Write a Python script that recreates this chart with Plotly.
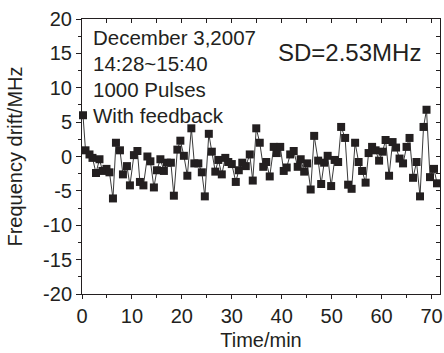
import plotly.graph_objects as go

time_min = [0.2, 0.7, 1.5, 2.1, 2.8, 3.5, 4.1, 4.9, 5.5, 6.2, 6.8, 7.6, 8.2, 9.0, 9.6, 10.4,
            11.1, 11.6, 12.3, 13.1, 13.7, 14.4, 15.0, 15.7, 16.4, 17.0, 17.8, 18.4, 19.1, 19.7,
            20.4, 21.1, 21.9, 22.5, 23.3, 24.0, 24.6, 25.4, 26.0, 26.7, 27.3, 28.0, 28.7, 29.3,
            30.0, 30.8, 31.4, 32.1, 32.8, 33.6, 34.2, 34.9, 35.6, 36.3, 36.9, 37.6, 38.4, 39.0,
            39.7, 40.4, 41.0, 41.7, 42.4, 43.2, 43.8, 44.5, 45.1, 45.8, 46.5, 47.3, 47.9, 48.5,
            49.2, 49.9, 50.6, 51.3, 51.9, 52.7, 53.3, 54.0, 54.7, 55.4, 56.1, 56.8, 57.4, 58.1,
            58.8, 59.5, 60.2, 60.8, 61.5, 62.2, 62.9, 63.6, 64.3, 65.0, 65.6, 66.3, 67.0, 67.7,
            68.4, 69.0, 69.7, 70.5, 71.1]
drift_mhz = [6.0, 0.9, 0.3, -0.2, -2.4, -0.4, -2.1, -1.8, -2.3, -6.1, 2.0, 0.9, -2.6, -1.4, -4.2, 0.2,
             0.8, -3.7, -4.2, 0.0, -0.7, -4.5, -2.0, -0.4, -2.1, -0.9, -0.9, -5.7, 1.0, 2.3,
             0.1, -2.8, 4.1, -1.0, -1.0, -2.3, -5.8, 3.3, 0.7, -2.2, -0.5, -2.6, -0.2, -0.8,
             -1.1, -3.7, -2.0, -0.9, -1.4, 0.3, -3.5, 4.1, 2.0, -1.5, -0.8, -2.9, 1.4, 0.5,
             1.4, -2.1, -1.6, 0.3, 0.8, -1.5, -0.4, -2.2, -1.0, -4.8, 3.0, -0.6, -4.0, -0.9,
             0.1, -4.3, -0.5, -0.8, 4.3, 2.7, -4.1, -4.7, 2.0, -0.8, -2.1, -3.8, 0.5, 1.4,
             0.9, -0.6, 0.7, 2.4, -2.8, 2.1, 1.3, -0.3, -1.0, 1.4, 2.7, -3.1, -0.8, -5.8,
             4.3, 6.8, -3.0, -1.8, -3.9]
x_tickvals = [0, 10, 20, 30, 40, 50, 60, 70]
x_ticktext = ["0", "10", "20", "30", "40", "50", "60", "70"]
y_tickvals = [-20, -15, -10, -5, 0, 5, 10, 15, 20]
y_ticktext = ["-20", "-15", "-10", "-5", "0", "5", "10", "15", "20"]
info_lines = ["December 3,2007", "14:28~15:40", "1000 Pulses", "With feedback"]
sd_label = "SD=2.53MHz"
x_title = "Time/min"
y_title = "Frequency drift/MHz"

FONT = "Liberation Sans, Arial, sans-serif"
INK = "#231f20"

fig = go.Figure()
fig.add_trace(go.Scatter(
    x=time_min, y=drift_mhz, mode="lines+markers",
    line=dict(color="#3a3a3a", width=1),
    marker=dict(symbol="square", size=8, color=INK),
    showlegend=False, cliponaxis=False,
))
fig.add_trace(go.Scatter(x=[], y=[], xaxis="x2", yaxis="y2", showlegend=False))

axis_common = dict(showgrid=False, zeroline=False, linecolor=INK, linewidth=1,
                   tickcolor=INK, tickfont=dict(family=FONT, size=20, color=INK))
fig.update_layout(
    width=444, height=353,
    margin=dict(l=82, r=1, t=19, b=59),
    plot_bgcolor="white", paper_bgcolor="white",
    font=dict(family=FONT, color=INK),
    xaxis=dict(range=[0, 71.7], tickmode="array", tickvals=x_tickvals, ticktext=x_ticktext,
               ticks="outside", ticklen=4, showline=True, ticklabeloverflow="allow",
               minor=dict(dtick=5, tick0=0, ticks="outside", ticklen=3, tickcolor=INK),
               title=dict(text=x_title, font=dict(family=FONT, size=20, color=INK), standoff=6),
               **axis_common),
    yaxis=dict(range=[-20, 20], tickmode="array", tickvals=y_tickvals, ticktext=y_ticktext,
               ticks="outside", ticklen=5, showline=True,
               minor=dict(dtick=2.5, tick0=-20, ticks="outside", ticklen=3, tickcolor=INK),
               title=dict(text=y_title, font=dict(family=FONT, size=20, color=INK), standoff=15),
               **axis_common),
    xaxis2=dict(range=[0, 71.7], overlaying="x", side="top", anchor="y",
                tickmode="linear", tick0=0, dtick=5, ticks="inside", ticklen=4,
                showticklabels=False, showline=True, **axis_common),
    yaxis2=dict(range=[-20, 20], overlaying="y", side="right", anchor="x",
                tickmode="linear", tick0=-20, dtick=2.5, ticks="inside", ticklen=4,
                showticklabels=False, showline=True, **axis_common),
)

line_y = [0.932, 0.837, 0.743, 0.650]
for txt, yy in zip(info_lines, line_y):
    fig.add_annotation(text=txt, xref="paper", yref="paper", x=0.024, y=yy,
                       xanchor="left", yanchor="middle", showarrow=False,
                       font=dict(family=FONT, size=20.5, color=INK))
fig.add_annotation(text=sd_label, xref="paper", yref="paper", x=0.748, y=0.880,
                   xanchor="center", yanchor="middle", showarrow=False,
                   font=dict(family=FONT, size=24, color=INK))

fig.write_html("out.html")
